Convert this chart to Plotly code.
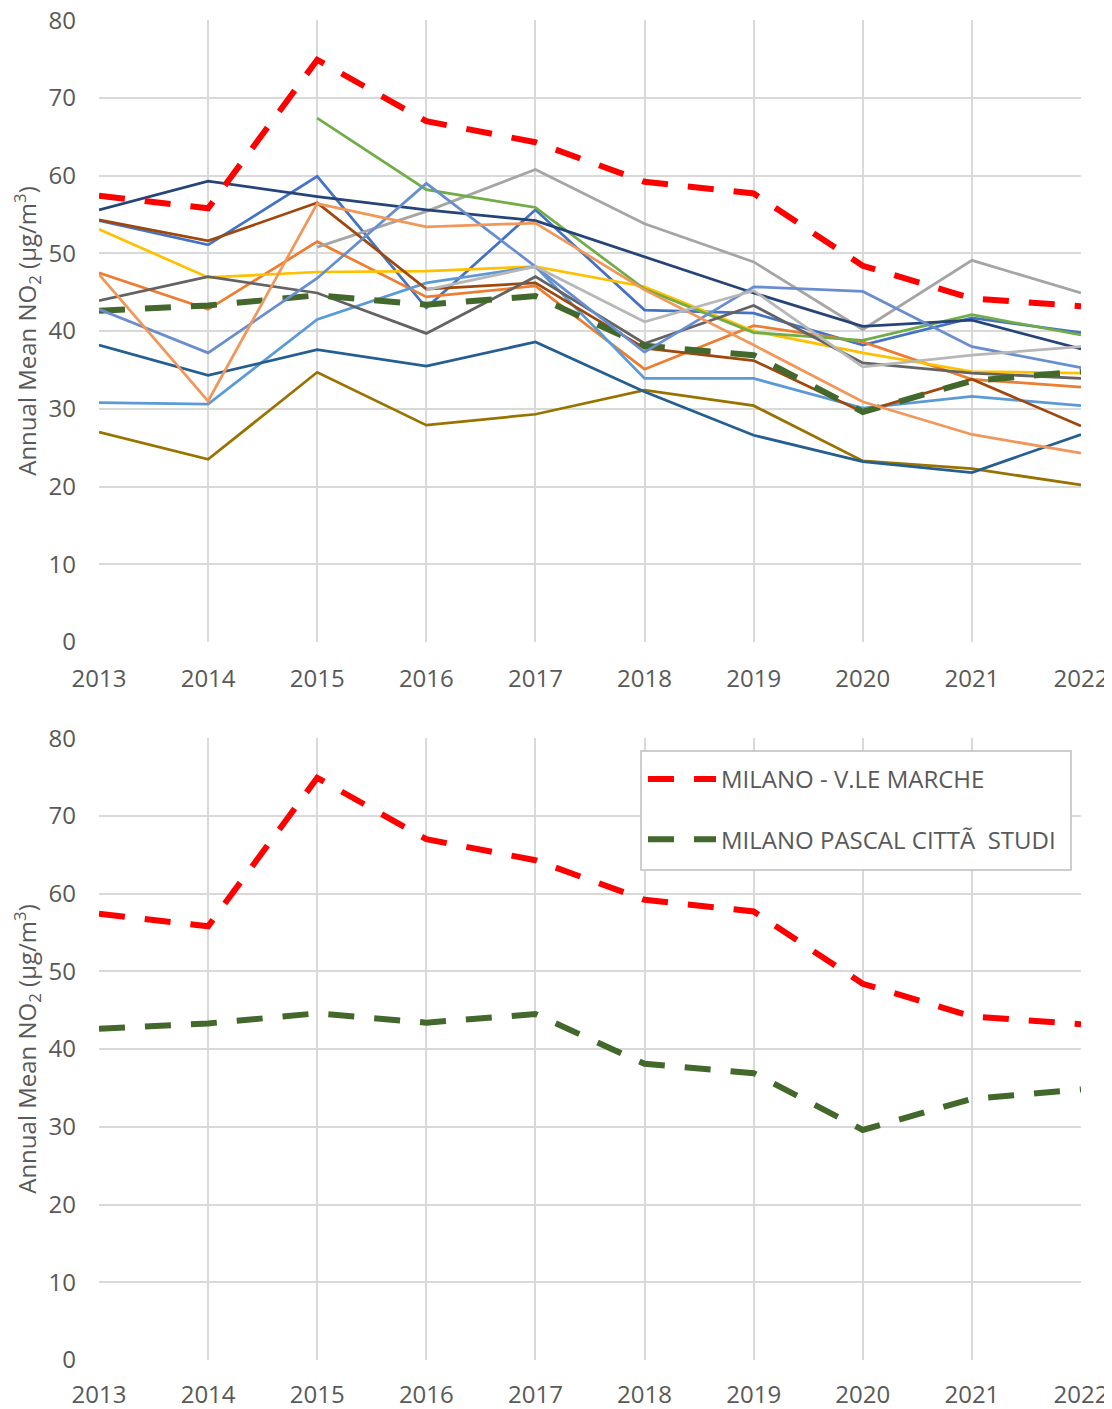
import plotly.graph_objects as go

years = [2013, 2014, 2015, 2016, 2017, 2018, 2019, 2020, 2021, 2022]
y_ticks = [0, 10, 20, 30, 40, 50, 60, 70, 80]

# Station series (top chart), in Excel series order
s_blue = [54.2, 51.1, 59.9, 43.0, 55.6, 42.7, 42.3, 38.2, 41.7, 39.8]
s_orange = [47.5, 42.8, 51.5, 44.4, 45.8, 35.1, 40.7, 38.6, 33.8, 32.8]
s_gray = [None, None, 50.8, 55.4, 60.8, 53.8, 48.9, 40.2, 49.1, 44.9]
s_gold = [53.1, 46.9, 47.6, 47.7, 48.3, 45.7, 40.0, 37.2, 34.8, 34.6]
s_lightblue = [30.8, 30.6, 41.5, 46.2, 48.3, 33.9, 33.9, 30.1, 31.6, 30.4]
s_green = [None, None, 67.4, 58.2, 55.9, 45.4, 39.8, 38.8, 42.1, 39.5]
s_navy = [55.6, 59.3, 57.3, 55.6, 54.2, 49.5, 44.9, 40.6, 41.4, 37.7]
s_brown = [54.3, 51.6, 56.5, 45.4, 46.2, 37.8, 36.2, 29.6, 33.8, 27.8]
s_darkgray = [43.9, 47.0, 44.9, 39.7, 47.0, 38.4, 43.3, 35.9, 34.6, 33.9]
s_olive = [27.0, 23.5, 34.7, 27.9, 29.3, 32.4, 30.4, 23.3, 22.3, 20.2]
s_steel = [38.2, 34.3, 37.6, 35.5, 38.6, 32.2, 26.6, 23.2, 21.8, 26.7]
s_pascal = [42.6, 43.3, 44.6, 43.4, 44.5, 38.1, 36.9, 29.6, 33.6, 34.8]
s_periwinkle = [42.8, 37.2, 46.8, 59.0, 48.3, 37.3, 45.7, 45.1, 38.0, 35.3]
s_lightorange = [47.3, 31.0, 56.4, 53.4, 53.9, 45.3, 38.2, 30.9, 26.7, 24.3]
s_lightgray = [None, None, None, 45.3, 48.3, 41.2, 45.2, 35.4, 36.9, 38.0]
s_marche = [57.4, 55.8, 74.9, 67.0, 64.3, 59.2, 57.7, 48.4, 44.2, 43.2]

name_marche = "MILANO - V.LE MARCHE"
name_pascal = "MILANO PASCAL CITTÃ\u00a0 STUDI"

solid_series = [
    ("Station 1", s_blue, "#4472C4"),
    ("Station 2", s_orange, "#ED7D31"),
    ("Station 3", s_gray, "#A5A5A5"),
    ("Station 4", s_gold, "#FFC000"),
    ("Station 5", s_lightblue, "#5B9BD5"),
    ("Station 6", s_green, "#70AD47"),
    ("Station 7", s_navy, "#264478"),
    ("Station 8", s_brown, "#9E480E"),
    ("Station 9", s_darkgray, "#636363"),
    ("Station 10", s_olive, "#997300"),
    ("Station 11", s_steel, "#255E91"),
    (name_pascal, s_pascal, "#43682B"),
    ("Station 13", s_periwinkle, "#698ED0"),
    ("Station 14", s_lightorange, "#F1975A"),
    ("Station 15", s_lightgray, "#B7B7B7"),
    (name_marche, s_marche, "#FF0000"),
]

FONT = "Open Sans"
TXT = "#595959"
GRID = "#D9D9D9"
OFF = 8  # page body margin
W, H = 1112 - OFF, 1409 - OFF
DASH = "26px,20px"

fig = go.Figure()

dashed_names = {name_pascal, name_marche}
for nm, vals, col in solid_series:
    if nm in dashed_names:
        line = dict(color=col, width=6, dash=DASH)
    else:
        line = dict(color=col, width=2.75)
    fig.add_trace(go.Scatter(x=years, y=vals, name=nm, mode="lines", line=line,
                             showlegend=False, connectgaps=False,
                             xaxis="x", yaxis="y"))

# Bottom chart: the two highlighted stations
fig.add_trace(go.Scatter(x=years, y=s_marche, name=name_marche, mode="lines",
                         line=dict(color="#FF0000", width=6, dash=DASH),
                         legendgroup="a", xaxis="x2", yaxis="y2"))
fig.add_trace(go.Scatter(x=years, y=s_pascal, name=name_pascal, mode="lines",
                         line=dict(color="#43682B", width=6, dash=DASH),
                         legendgroup="b", xaxis="x2", yaxis="y2"))


def px_x(p):
    return (p - OFF) / W


def px_y(p):
    return 1 - (p - OFF) / H


x_dom = [px_x(99), px_x(1081)]
top_dom = [px_y(642), px_y(20)]
bot_dom = [px_y(1360), px_y(738)]

xcommon = dict(range=[2013, 2022], tickmode="array", tickvals=years,
               ticktext=[str(y) for y in years], showgrid=True, gridcolor=GRID,
               gridwidth=2, zeroline=False, showline=False, ticks="",
               tickfont=dict(family=FONT, size=24, color=TXT),
               ticklabeloverflow="allow", domain=x_dom, automargin=False)
ytitle = "Annual Mean NO<sub>2</sub> (μg/m<sup>3</sup>)"
ycommon = dict(range=[0, 80.02], tickmode="array", tickvals=y_ticks, showgrid=True,
               gridcolor=GRID, gridwidth=2, zeroline=False, showline=False, ticks="",
               tickfont=dict(family=FONT, size=24, color=TXT), ticklabelstandoff=22,
               ticklabeloverflow="allow", automargin=False,
               title=dict(text=ytitle, font=dict(family=FONT, size=24, color=TXT),
                          standoff=22))

fig.update_layout(
    width=W, height=H,
    margin=dict(l=0, r=0, t=0, b=0, autoexpand=False),
    paper_bgcolor="white", plot_bgcolor="white",
    xaxis=dict(**xcommon, anchor="y", ticklabelstandoff=20),
    yaxis=dict(**ycommon, domain=top_dom, anchor="x"),
    xaxis2=dict(**xcommon, anchor="y2", ticklabelstandoff=18),
    yaxis2=dict(**ycommon, domain=bot_dom, anchor="x2"),
    showlegend=True,
    legend=dict(x=px_x(643), y=px_y(757), xanchor="left", yanchor="top",
                bgcolor="rgba(0,0,0,0)", borderwidth=0,
                font=dict(family=FONT, size=24, color=TXT),
                tracegroupgap=26, itemwidth=68),
    shapes=[dict(type="rect", xref="paper", yref="paper", layer="above",
                 x0=px_x(641), x1=px_x(1071), y0=px_y(870), y1=px_y(751),
                 fillcolor="white", line=dict(color="#BFBFBF", width=1.5))],
)

fig.write_html("out.html")
